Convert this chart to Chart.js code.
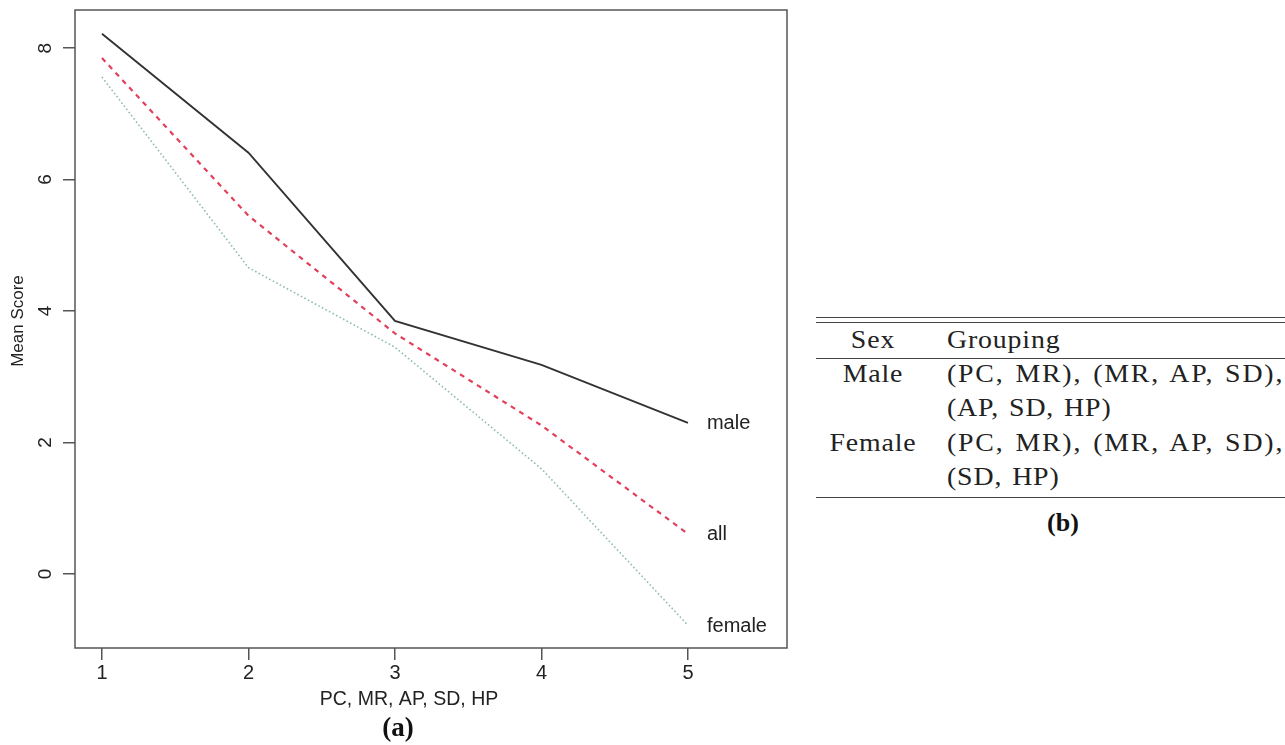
<!DOCTYPE html>
<html>
<head>
<meta charset="utf-8">
<script src="https://cdn.jsdelivr.net/npm/chart.js@4/dist/chart.umd.min.js"></script>
<style>
  html, body { margin: 0; padding: 0; background: #fff; width: 1285px; height: 745px; overflow: hidden; }
  #wrap { position: absolute; left: 0; top: 0; width: 800px; height: 745px; }
  .rule { position: absolute; left: 816px; width: 469px; height: 0; border-top: 1.5px solid #444; }
  .tx { position: absolute; font-family: "Liberation Serif", "Times New Roman", serif; font-size: 26px; color: #222;
        letter-spacing: 0.8px; word-spacing: 2px; transform-origin: left top; transform: scaleX(1.07); white-space: nowrap; line-height: 1; }
  .wide { letter-spacing: 1.7px; }
  .ctr { transform-origin: center top; text-align: center; }
  .cap { position: absolute; font-family: "Liberation Serif", serif; font-weight: bold; font-size: 26px; color: #111; text-align: center; width: 60px; line-height: 1; }
</style>
</head>
<body>
<div id="wrap"><canvas id="c"></canvas></div>

<div class="rule" style="top:317px"></div>
<div class="rule" style="top:322px"></div>
<div class="rule" style="top:358px"></div>
<div class="rule" style="top:497px"></div>

<div class="tx ctr" style="left:823px; width:100px; top:327px;">Sex</div>
<div class="tx" style="left:947px; top:327px;">Grouping</div>
<div class="tx ctr" style="left:823px; width:100px; top:361px;">Male</div>
<div class="tx wide" style="left:947px; top:361px;">(PC, MR), (MR, AP, SD),</div>
<div class="tx" style="left:947px; top:395px;">(AP, SD, HP)</div>
<div class="tx ctr" style="left:823px; width:100px; top:430px;">Female</div>
<div class="tx wide" style="left:947px; top:430px;">(PC, MR), (MR, AP, SD),</div>
<div class="tx" style="left:947px; top:464px;">(SD, HP)</div>
<div class="cap" style="left:1033px; top:510px;">(b)</div>

<script>
// ---- data ----
const xValues   = [1, 2, 3, 4, 5];
const maleVals  = [8.22, 6.41, 3.85, 3.18, 2.30];
const allVals   = [7.85, 5.45, 3.66, 2.26, 0.61];
const femaleVals= [7.56, 4.66, 3.45, 1.60, -0.78];
const seriesNames = ['male', 'all', 'female'];
const xTicks = [1, 2, 3, 4, 5];
const yTicks = [0, 2, 4, 6, 8];
const xTitle = 'PC, MR, AP, SD, HP';
const yTitle = 'Mean Score';
const panelA = '(a)';

const toPts = vals => xValues.map((x, i) => ({ x: x, y: vals[i] }));

const sansFont = '"Liberation Sans", Arial, sans-serif';

const decor = {
  id: 'decor',
  afterDraw(chart) {
    const ctx = chart.ctx;
    const a = chart.chartArea;
    const xs = chart.scales.x, ys = chart.scales.y;
    ctx.save();
    // plot box
    ctx.strokeStyle = '#555';
    ctx.lineWidth = 1.5;
    ctx.strokeRect(a.left, a.top, a.right - a.left, a.bottom - a.top);
    // rotated y tick labels
    ctx.fillStyle = '#222';
    ctx.font = '19px ' + sansFont;
    ctx.textAlign = 'center';
    ctx.textBaseline = 'middle';
    yTicks.forEach(v => {
      const py = ys.getPixelForValue(v);
      ctx.save();
      ctx.translate(46, py);
      ctx.rotate(-Math.PI / 2);
      ctx.fillText(String(v), 0, 0);
      ctx.restore();
    });
    // y title
    ctx.font = '17px ' + sansFont;
    ctx.save();
    ctx.translate(18, 321);
    ctx.rotate(-Math.PI / 2);
    ctx.fillText(yTitle, 0, 0);
    ctx.restore();
    // x title
    ctx.font = '19.5px ' + sansFont;
    ctx.fillText(xTitle, 409, 700);
    // panel label
    ctx.font = 'bold 27px "Liberation Serif", serif';
    ctx.fillStyle = '#111';
    ctx.fillText(panelA, 398, 729);
    // series end labels
    ctx.fillStyle = '#222';
    ctx.font = '20px ' + sansFont;
    ctx.textAlign = 'left';
    chart.data.datasets.forEach((ds, i) => {
      const last = ds.data[ds.data.length - 1];
      const px = xs.getPixelForValue(last.x) + 19;
      const py = ys.getPixelForValue(last.y) + 1;
      ctx.fillText(seriesNames[i], px, py);
    });
    ctx.restore();
  }
};

new Chart(document.getElementById('c'), {
  type: 'line',
  data: {
    datasets: [
      { label: seriesNames[0], data: toPts(maleVals), borderColor: '#333333', borderWidth: 1.9, pointRadius: 0, fill: false, tension: 0 },
      { label: seriesNames[1], data: toPts(allVals), borderColor: '#e2405a', borderWidth: 2.2, borderDash: [5, 5], pointRadius: 0, fill: false, tension: 0 },
      { label: seriesNames[2], data: toPts(femaleVals), borderColor: '#90bcb2', borderWidth: 1.6, borderDash: [1.6, 2.4], pointRadius: 0, fill: false, tension: 0 }
    ]
  },
  options: {
    responsive: true,
    maintainAspectRatio: false,
    animation: false,
    layout: { padding: { left: 0, right: 13, top: 10, bottom: 0 } },
    plugins: { legend: { display: false }, tooltip: { enabled: false } },
    scales: {
      x: {
        type: 'linear',
        min: 0.816, max: 5.676,
        afterBuildTicks: s => { s.ticks = xTicks.map(v => ({ value: v })); },
        afterFit: s => { s.height = 97; },
        border: { display: false },
        grid: { drawOnChartArea: false, drawTicks: true, tickLength: 12, color: '#555', lineWidth: 1.5 },
        ticks: { color: '#222', font: { family: sansFont, size: 20 }, padding: 1, maxRotation: 0, minRotation: 0 }
      },
      y: {
        type: 'linear',
        min: -1.126, max: 8.58,
        afterBuildTicks: s => { s.ticks = yTicks.map(v => ({ value: v })); },
        afterFit: s => { s.width = 75; },
        border: { display: false },
        grid: { drawOnChartArea: false, drawTicks: true, tickLength: 12, color: '#555', lineWidth: 1.5 },
        ticks: { display: false }
      }
    }
  },
  plugins: [decor]
});
</script>
</body>
</html>
